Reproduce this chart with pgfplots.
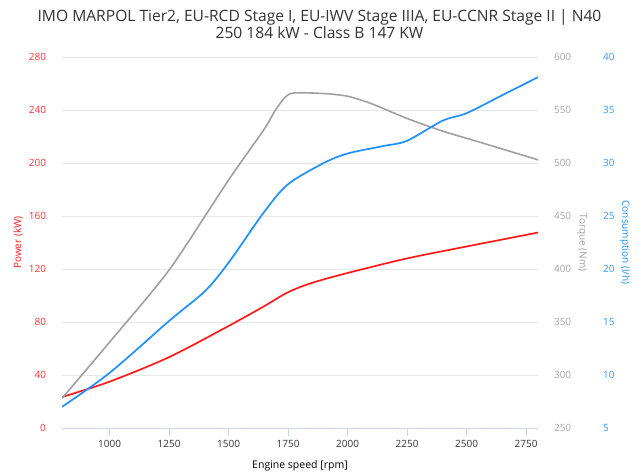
\documentclass[border=0pt]{standalone}
\usepackage{pgfplots}
\pgfplotsset{compat=1.18}
\usepackage{fontspec}
\setmainfont{Open Sans}
\definecolor{pw}{HTML}{FF1A1A}
\definecolor{tq}{HTML}{A0A0A0}
\definecolor{cs}{HTML}{1E90FF}
\definecolor{pwl}{HTML}{FF3333}
\definecolor{tql}{HTML}{A6A6A6}
\definecolor{csl}{HTML}{3399FF}
\definecolor{gridc}{HTML}{E6E6E6}
\definecolor{axc}{HTML}{CCD6EB}
\definecolor{txt}{HTML}{333333}
\pgfplotsset{
  base/.style={
    at={(62pt,47pt)}, anchor=south west, scale only axis,
    width=476pt, height=371pt, xmin=800, xmax=2800,
    /pgf/number format/assume math mode=true,
    scaled y ticks=false, scaled x ticks=false,
    y axis line style={draw=none},
    major y tick style={draw=none},
    axis line style={-},
    every tick label/.append style={font=\fontsize{10}{12}\selectfont},
  },
}
\begin{document}
\begin{tikzpicture}[x=1pt,y=1pt]
\useasboundingbox (0,0) rectangle (639,475);
\node[font=\fontsize{15.6}{18}\selectfont, text=txt] at (319.5,458) {IMO MARPOL Tier2, EU-RCD Stage I, EU-IWV Stage IIIA, EU-CCNR Stage II | N40};
\node[font=\fontsize{15.6}{18}\selectfont, text=txt] at (319.5,442) {250 184 kW - Class B 147 KW};
% Power axis
\begin{axis}[base,
  ymin=0, ymax=280, ytick={0,40,...,280},
  axis x line*=bottom, axis y line*=left,
  x axis line style={axc, line width=0.8pt},
  xtick={1000,1250,...,2750},
  xticklabels={1000,1250,1500,1750,2000,2250,2500,2750},
  xtick align=outside, major x tick style={axc, line width=0.8pt},
  major tick length=8pt,
  xticklabel style={text=txt, yshift=-1pt},
  ymajorgrids, grid style={gridc, line width=0.8pt},
  yticklabel style={text=pwl, xshift=-12.5pt},
  xlabel={Engine speed [rpm]},
  xlabel style={font=\fontsize{10.5}{12}\selectfont, text=black, at={(axis description cs:0.5,0)}, anchor=center, yshift=-38pt},
  ylabel={Power (kW)},
  ylabel style={font=\fontsize{10}{12}\selectfont, text=pw, at={([xshift=-44pt]axis description cs:0,0.5)}, anchor=center},
]
\addplot[pw, line width=1.7pt, smooth, tension=0.5] coordinates {
(800,23.4)(1000,35)(1250,53.5)(1500,77)(1650,92)(1750,102.5)(1850,109.5)(2000,117)(2250,128)(2500,137)(2800,147.5)};
\end{axis}
% Torque axis
\begin{axis}[base,
  ymin=250, ymax=600, ytick={250,300,...,600},
  axis x line=none, axis y line*=right,
  yticklabel style={text=tql, xshift=12.5pt},
  ylabel={Torque (Nm)},
  ylabel style={font=\fontsize{10}{12}\selectfont, text=tq, at={([xshift=44pt]axis description cs:1,0.5)}, anchor=center, rotate=180},
]
\addplot[tq, line width=1.6pt, smooth, tension=0.4] coordinates {
(800,278)(1000,331)(1250,399)(1500,484)(1650,532)(1700,551)(1760,565.5)(1900,565.5)(2000,563)(2100,556)(2250,542)(2400,530)(2550,520)(2800,503)};
\end{axis}
% Consumption axis
\begin{axis}[base,
  ymin=5, ymax=40, ytick={5,10,...,40},
  axis x line=none, axis y line*=right,
  yticklabel style={text=csl, xshift=61.5pt},
  ylabel={Consumption (l/h)},
  ylabel style={font=\fontsize{10}{12}\selectfont, text=cs, at={([xshift=87pt]axis description cs:1,0.5)}, anchor=center, rotate=180},
]
\addplot[cs, line width=1.7pt, smooth, tension=0.5] coordinates {
(800,7.0)(1000,10.2)(1250,15.1)(1400,17.9)(1500,20.6)(1650,25.4)(1750,28.0)(1900,30.0)(2000,30.9)(2150,31.6)(2250,32.1)(2400,34.0)(2500,34.7)(2650,36.4)(2800,38.1)};
\end{axis}
\end{tikzpicture}
\end{document}
